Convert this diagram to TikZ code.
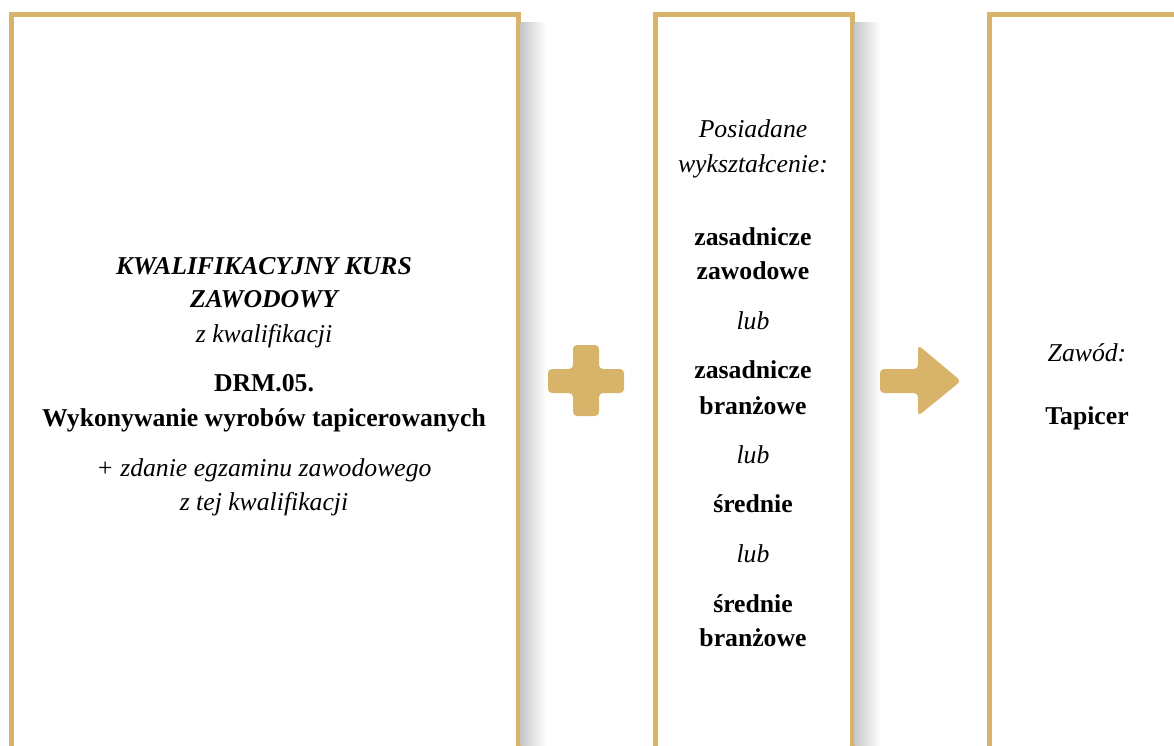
\documentclass[tikz,border=0pt]{standalone}
\usepackage{fontspec}
\setmainfont{Liberation Serif}
\definecolor{gold}{RGB}{216,180,106}
\tikzset{
  panel/.style={draw=gold, line width=5pt, fill=white, anchor=north west, minimum height=800pt, inner sep=0pt, outer sep=0pt},
  shadowstrip/.style={left color=black!22, right color=white},
  line/.style={anchor=base, inner sep=0pt, font=\fontsize{25.7}{34}\selectfont},
  head/.style={line, font=\fontsize{25.7}{34}\selectfont\bfseries\itshape},
  strong/.style={line, font=\fontsize{25.7}{34}\selectfont\bfseries},
  soft/.style={line, font=\fontsize{25.7}{34}\selectfont\itshape},
  sign/.style={fill=gold, rounded corners=4pt},
}
\begin{document}
\begin{tikzpicture}[x=1pt, y=-1pt]
  \useasboundingbox (0,0) rectangle (1174,745);
  \clip (0,0) rectangle (1174,745);

  % panels
  \node[panel, minimum width=506.5pt] (kurs) at (11.5,14.5) {};
  \node[panel, minimum width=197pt] (wyk) at (655,14.5) {};
  \node[panel, minimum width=197pt] (zawod) at (989,14.5) {};
  \shade[shadowstrip] (520.5,22) rectangle (546,745);
  \shade[shadowstrip] (854.5,22) rectangle (880,745);

  % course
  \node[head] (k1) at (264,274) {KWALIFIKACYJNY KURS};
  \node[head] (k2) at (264,307) {ZAWODOWY};
  \node[soft] (k3) at (264,342) {z kwalifikacji};
  \node[strong] (k4) at (264,391) {DRM.05.};
  \node[strong] (k5) at (264,426) {Wykonywanie wyrobów tapicerowanych};
  \node[soft] (k6) at (264,476) {+ zdanie egzaminu zawodowego};
  \node[soft] (k7) at (264,510) {z tej kwalifikacji};

  % education
  \node[soft] (w1) at (753,137) {Posiadane};
  \node[soft] (w2) at (753,172) {wykształcenie:};
  \node[strong] (w3) at (753,245) {zasadnicze};
  \node[strong] (w4) at (753,279) {zawodowe};
  \node[soft] (w5) at (753,329) {lub};
  \node[strong] (w6) at (753,378) {zasadnicze};
  \node[strong] (w7) at (753,414) {branżowe};
  \node[soft] (w8) at (753,463) {lub};
  \node[strong] (w9) at (753,512) {średnie};
  \node[soft] (w10) at (753,562) {lub};
  \node[strong] (w11) at (753,612) {średnie};
  \node[strong] (w12) at (753,646) {branżowe};

  % profession
  \node[soft] (z1) at (1087,361) {Zawód:};
  \node[strong] (z2) at (1087,424) {Tapicer};

  % plus and arrow
  \fill[sign] (573,345) -- (599,345) -- (599,369) -- (624,369) -- (624,393) -- (599,393)
    -- (599,416) -- (573,416) -- (573,393) -- (548,393) -- (548,369) -- (573,369) -- cycle;
  \fill[sign] (880,369) -- (918,369) -- (918,345) -- (961,381) -- (918,416) -- (918,393)
    -- (880,393) -- cycle;
\end{tikzpicture}
\end{document}
